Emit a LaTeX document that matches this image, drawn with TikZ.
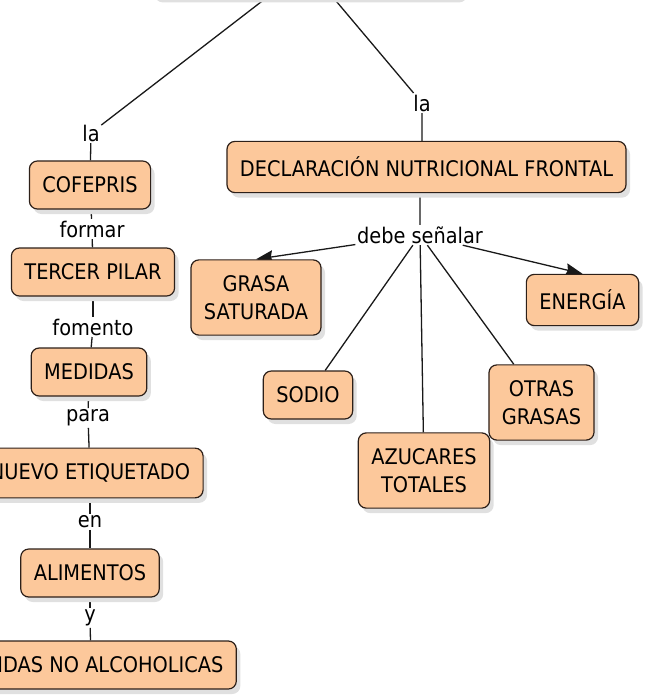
\documentclass[tikz,border=0pt]{standalone}
\usepackage{fontspec}
\setmainfont{DejaVu Sans}[FakeStretch=0.9]
\usetikzlibrary{arrows.meta}
\usetikzlibrary{backgrounds}
\usetikzlibrary{shadows}
\definecolor{peach}{RGB}{252,200,155}
\definecolor{edge}{RGB}{45,32,25}

\begin{document}
\begin{tikzpicture}[x=1pt, y=-1pt]
	\tikzstyle{cbox}=[draw=edge, line width=1.2pt, fill=peach, rounded corners=8pt,
	                  align=center, inner xsep=13pt, inner ysep=15.5pt, minimum height=48pt,
	                  font=\fontsize{21.5pt}{28pt}\selectfont,
	                  drop shadow={shadow xshift=4pt, shadow yshift=-5pt, fill=black!12, opacity=1}];
	\tikzstyle{lbl}=[inner sep=1.5pt, font=\fontsize{21.5pt}{28pt}\selectfont];
	\tikzstyle{cline}=[draw=black!90, line width=1.3pt];
	\tikzstyle{ar}=[cline, -{Stealth[length=17pt, width=13pt, inset=2pt]}];
	\useasboundingbox (0,0) rectangle (646,695);
	\clip (0,0) rectangle (646,695);
	% off the top edge
	\node[cbox, minimum width=312pt, minimum height=62pt] (top) at (307,-33.5) {};
	% left branch
	\node[lbl] (la1) at (91,133) {la};
	\node[cbox] (cof) at (90,185) {COFEPRIS};
	\node[lbl] (formar) at (92,229) {formar};
	\node[cbox] (tercer) at (93,272) {TERCER PILAR};
	\node[lbl] (fomento) at (93,327) {fomento};
	\node[cbox] (medidas) at (89,372) {MEDIDAS};
	\node[lbl] (para) at (88,418) {para};
	\node[cbox] (nuevo) at (90,473) {NUEVO ETIQUETADO};
	\node[lbl] (en) at (90,522) {en};
	\node[cbox] (alim) at (90,573) {ALIMENTOS};
	\node[lbl] (yy) at (90,618) {y};
	\node[cbox] (beb) at (91,665) {BEBIDAS NO ALCOHOLICAS};
	% right branch
	\node[lbl] (la2) at (422,103) {la};
	\node[cbox] (decl) at (426.5,167) {DECLARACIÓN NUTRICIONAL FRONTAL};
	\node[lbl] (debe) at (420,235) {debe señalar};
	\node[cbox] (grasa) at (256,297.5) {GRASA\\SATURADA};
	\node[cbox] (sodio) at (308,395) {SODIO};
	\node[cbox] (azu) at (424,470.5) {AZUCARES\\TOTALES};
	\node[cbox] (otras) at (541.5,402.5) {OTRAS\\GRASAS};
	\node[cbox] (energia) at (582.5,300) {ENERGÍA};
	\begin{scope}[on background layer]
	\draw[cline]
	(top) -- (la1) (la1) -- (cof)
	(top) -- (la2) (la2) -- (la2 |- decl.north)
	(decl.south -| debe) -- (debe)
	(debe) -- (sodio)
	(debe) -- (azu)
	(debe) -- (otras)
	;
	\draw[ar] (debe) -- (grasa.north);
	\draw[ar] (debe) -- (energia.north);
	\foreach \a/\b in {cof/formar, formar/tercer, tercer/fomento, fomento/medidas,
	                   medidas/para, para/nuevo, nuevo/en, en/alim, alim/yy, yy/beb}
	{\draw[cline] (\a) -- (\b);}
	\end{scope}
\end{tikzpicture}
\end{document}
